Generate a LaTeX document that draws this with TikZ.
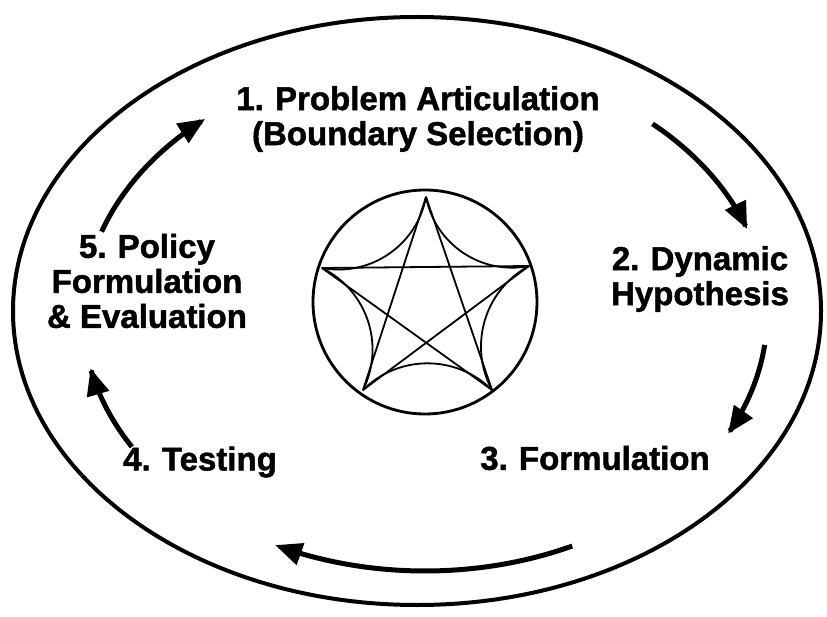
\documentclass[tikz,border=0pt]{standalone}
\usepackage{fontspec}
\setmainfont{Liberation Sans}[BoldFeatures={FakeBold=1.5}]
\usetikzlibrary{arrows.meta}
\newcommand{\numgap}{\hspace{0.34em}}
\begin{document}
\begin{tikzpicture}[x=1pt,y=-1pt,
  lbl/.style={font=\fontsize{33}{35}\selectfont\bfseries, align=center, inner sep=0pt},
  cyc/.style={line width=5pt, -{Triangle[length=27pt,width=22pt]}},
  star/.style={line width=1.8pt, line join=round},
  rim/.style={line width=4pt}]
\useasboundingbox (0,0) rectangle (827,617);
\fill[white] (0,0) rectangle (827,617);
% outer ellipse
\draw[rim] (417,311) ellipse [x radius=404, y radius=294];
% labels
\node[lbl] (n1) at (418,119) {1.\numgap Problem Articulation\\(Boundary Selection)};
\node[lbl] (n2) at (700,279) {2.\numgap Dynamic\\Hypothesis};
\node[lbl] (n3) at (595,458) {3.\numgap Formulation};
\node[lbl] (n4) at (200,462) {4.\numgap Testing};
\node[lbl] (n5) at (147,281) {5.\numgap Policy\\Formulation\\\&~Evaluation};
% cycle arrows
\draw[cyc] plot[domain=199:230, samples=30, smooth] ({425+342*cos(\x)},{315+256*sin(\x)});
\draw[cyc] plot[domain=311.7:340.4, samples=30, smooth] ({425+342*cos(\x)},{315+256*sin(\x)});
\draw[cyc] plot[domain=6.7:27.6, samples=30, smooth] ({425+342*cos(\x)},{315+256*sin(\x)});
\draw[cyc] plot[domain=64.5:116, samples=30, smooth] ({425+342*cos(\x)},{315+256*sin(\x)});
\draw[cyc] plot[domain=149:168, samples=30, smooth] ({425+342*cos(\x)},{315+256*sin(\x)});
% central emblem
\draw[line width=2.8pt] (425,302) circle [radius=112];
\coordinate (v0) at (426,197);
\coordinate (v1) at (322,268);
\coordinate (v2) at (363,390);
\coordinate (v3) at (492,390);
\coordinate (v4) at (529,266);
\draw[star] (v0) -- (v2) -- (v4) -- (v1) -- (v3) -- cycle;
\draw[star] (v0) to[bend left=45] (v1);
\draw[star] (v1) to[bend left=45] (v2);
\draw[star] (v2) to[bend left=45] (v3);
\draw[star] (v3) to[bend left=45] (v4);
\draw[star] (v4) to[bend left=45] (v0);
\end{tikzpicture}
\end{document}
